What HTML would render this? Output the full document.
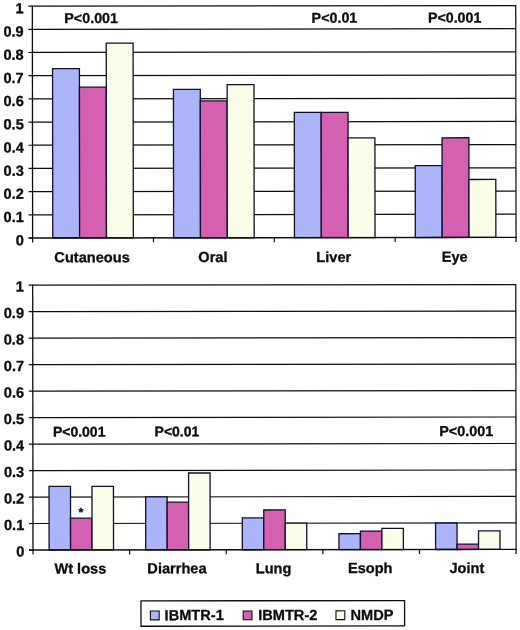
<!DOCTYPE html>
<html><head><meta charset="utf-8"><title>Chart</title>
<style>
html,body{margin:0;padding:0;background:#fff;}
svg{display:block;}
.t{font-family:"Liberation Sans",Arial,sans-serif;font-weight:bold;font-size:14.6px;fill:#0c0c0c;stroke:#0c0c0c;stroke-width:0.3px;}
</style></head><body>
<svg width="520" height="630" viewBox="0 0 520 630">
<rect width="520" height="630" fill="#fff"/>
<g transform="rotate(-0.07 33 300)">
<line x1="32.7" y1="6.10" x2="516.1" y2="6.10" stroke="#0c0c0c" stroke-width="1.25"/>
<line x1="28.700000000000003" y1="6.10" x2="32.7" y2="6.10" stroke="#0c0c0c" stroke-width="1.2"/>
<text x="24.000000000000004" y="13.30" text-anchor="end" class="t">1</text>
<line x1="32.7" y1="29.29" x2="516.1" y2="29.29" stroke="#0c0c0c" stroke-width="1.25"/>
<line x1="28.700000000000003" y1="29.29" x2="32.7" y2="29.29" stroke="#0c0c0c" stroke-width="1.2"/>
<text x="24.000000000000004" y="36.49" text-anchor="end" class="t">0.9</text>
<line x1="32.7" y1="52.48" x2="516.1" y2="52.48" stroke="#0c0c0c" stroke-width="1.25"/>
<line x1="28.700000000000003" y1="52.48" x2="32.7" y2="52.48" stroke="#0c0c0c" stroke-width="1.2"/>
<text x="24.000000000000004" y="59.68" text-anchor="end" class="t">0.8</text>
<line x1="32.7" y1="75.67" x2="516.1" y2="75.67" stroke="#0c0c0c" stroke-width="1.25"/>
<line x1="28.700000000000003" y1="75.67" x2="32.7" y2="75.67" stroke="#0c0c0c" stroke-width="1.2"/>
<text x="24.000000000000004" y="82.87" text-anchor="end" class="t">0.7</text>
<line x1="32.7" y1="98.86" x2="516.1" y2="98.86" stroke="#0c0c0c" stroke-width="1.25"/>
<line x1="28.700000000000003" y1="98.86" x2="32.7" y2="98.86" stroke="#0c0c0c" stroke-width="1.2"/>
<text x="24.000000000000004" y="106.06" text-anchor="end" class="t">0.6</text>
<line x1="32.7" y1="122.05" x2="516.1" y2="122.05" stroke="#0c0c0c" stroke-width="1.25"/>
<line x1="28.700000000000003" y1="122.05" x2="32.7" y2="122.05" stroke="#0c0c0c" stroke-width="1.2"/>
<text x="24.000000000000004" y="129.25" text-anchor="end" class="t">0.5</text>
<line x1="32.7" y1="145.24" x2="516.1" y2="145.24" stroke="#0c0c0c" stroke-width="1.25"/>
<line x1="28.700000000000003" y1="145.24" x2="32.7" y2="145.24" stroke="#0c0c0c" stroke-width="1.2"/>
<text x="24.000000000000004" y="152.44" text-anchor="end" class="t">0.4</text>
<line x1="32.7" y1="168.43" x2="516.1" y2="168.43" stroke="#0c0c0c" stroke-width="1.25"/>
<line x1="28.700000000000003" y1="168.43" x2="32.7" y2="168.43" stroke="#0c0c0c" stroke-width="1.2"/>
<text x="24.000000000000004" y="175.63" text-anchor="end" class="t">0.3</text>
<line x1="32.7" y1="191.62" x2="516.1" y2="191.62" stroke="#0c0c0c" stroke-width="1.25"/>
<line x1="28.700000000000003" y1="191.62" x2="32.7" y2="191.62" stroke="#0c0c0c" stroke-width="1.2"/>
<text x="24.000000000000004" y="198.82" text-anchor="end" class="t">0.2</text>
<line x1="32.7" y1="214.81" x2="516.1" y2="214.81" stroke="#0c0c0c" stroke-width="1.25"/>
<line x1="28.700000000000003" y1="214.81" x2="32.7" y2="214.81" stroke="#0c0c0c" stroke-width="1.2"/>
<text x="24.000000000000004" y="222.01" text-anchor="end" class="t">0.1</text>
<line x1="28.700000000000003" y1="238.00" x2="32.7" y2="238.00" stroke="#0c0c0c" stroke-width="1.2"/>
<text x="24.000000000000004" y="245.20" text-anchor="end" class="t">0</text>
<rect x="52.84" y="68.71" width="26.86" height="169.29" fill="#acb5fa" stroke="#101028" stroke-width="1.3"/>
<rect x="79.70" y="87.26" width="26.86" height="150.74" fill="#d55fb0" stroke="#101028" stroke-width="1.3"/>
<rect x="106.55" y="43.20" width="26.86" height="194.80" fill="#fafde8" stroke="#101028" stroke-width="1.3"/>
<text x="92.12" y="262.30" text-anchor="middle" class="t">Cutaneous</text>
<rect x="173.69" y="89.58" width="26.86" height="148.42" fill="#acb5fa" stroke="#101028" stroke-width="1.3"/>
<rect x="200.55" y="101.18" width="26.86" height="136.82" fill="#d55fb0" stroke="#101028" stroke-width="1.3"/>
<rect x="227.40" y="84.95" width="26.86" height="153.05" fill="#fafde8" stroke="#101028" stroke-width="1.3"/>
<text x="212.98" y="262.30" text-anchor="middle" class="t">Oral</text>
<rect x="294.54" y="112.77" width="26.86" height="125.23" fill="#acb5fa" stroke="#101028" stroke-width="1.3"/>
<rect x="321.40" y="112.77" width="26.86" height="125.23" fill="#d55fb0" stroke="#101028" stroke-width="1.3"/>
<rect x="348.25" y="138.28" width="26.86" height="99.72" fill="#fafde8" stroke="#101028" stroke-width="1.3"/>
<text x="333.83" y="262.30" text-anchor="middle" class="t">Liver</text>
<rect x="415.39" y="166.11" width="26.86" height="71.89" fill="#acb5fa" stroke="#101028" stroke-width="1.3"/>
<rect x="442.25" y="138.28" width="26.86" height="99.72" fill="#d55fb0" stroke="#101028" stroke-width="1.3"/>
<rect x="469.10" y="180.03" width="26.86" height="57.97" fill="#fafde8" stroke="#101028" stroke-width="1.3"/>
<text x="454.68" y="262.30" text-anchor="middle" class="t">Eye</text>
<line x1="32.7" y1="5.5" x2="32.7" y2="238.6" stroke="#0c0c0c" stroke-width="1.3"/>
<line x1="516.1" y1="5.5" x2="516.1" y2="238.6" stroke="#0c0c0c" stroke-width="1.2"/>
<line x1="28.700000000000003" y1="238.0" x2="516.7" y2="238.0" stroke="#0c0c0c" stroke-width="1.3"/>
<line x1="32.70" y1="238.0" x2="32.70" y2="242.5" stroke="#0c0c0c" stroke-width="1.2"/>
<line x1="153.55" y1="238.0" x2="153.55" y2="242.5" stroke="#0c0c0c" stroke-width="1.2"/>
<line x1="274.40" y1="238.0" x2="274.40" y2="242.5" stroke="#0c0c0c" stroke-width="1.2"/>
<line x1="395.25" y1="238.0" x2="395.25" y2="242.5" stroke="#0c0c0c" stroke-width="1.2"/>
<line x1="516.10" y1="238.0" x2="516.10" y2="242.5" stroke="#0c0c0c" stroke-width="1.2"/>
<text x="91.5" y="23" text-anchor="middle" class="t" style="font-size:14.3px">P&lt;0.001</text>
<text x="334.8" y="23" text-anchor="middle" class="t" style="font-size:14.3px">P&lt;0.01</text>
<text x="455" y="23" text-anchor="middle" class="t" style="font-size:14.2px">P&lt;0.001</text>
<line x1="32.7" y1="285.20" x2="515.8" y2="285.20" stroke="#0c0c0c" stroke-width="1.2"/>
<line x1="28.700000000000003" y1="285.20" x2="32.7" y2="285.20" stroke="#0c0c0c" stroke-width="1.2"/>
<text x="24.000000000000004" y="291.60" text-anchor="end" class="t">1</text>
<line x1="32.7" y1="311.68" x2="515.8" y2="311.68" stroke="#0c0c0c" stroke-width="1.2"/>
<line x1="28.700000000000003" y1="311.68" x2="32.7" y2="311.68" stroke="#0c0c0c" stroke-width="1.2"/>
<text x="24.000000000000004" y="318.08" text-anchor="end" class="t">0.9</text>
<line x1="32.7" y1="338.16" x2="515.8" y2="338.16" stroke="#0c0c0c" stroke-width="1.2"/>
<line x1="28.700000000000003" y1="338.16" x2="32.7" y2="338.16" stroke="#0c0c0c" stroke-width="1.2"/>
<text x="24.000000000000004" y="344.56" text-anchor="end" class="t">0.8</text>
<line x1="32.7" y1="364.64" x2="515.8" y2="364.64" stroke="#0c0c0c" stroke-width="1.2"/>
<line x1="28.700000000000003" y1="364.64" x2="32.7" y2="364.64" stroke="#0c0c0c" stroke-width="1.2"/>
<text x="24.000000000000004" y="371.04" text-anchor="end" class="t">0.7</text>
<line x1="32.7" y1="391.12" x2="515.8" y2="391.12" stroke="#0c0c0c" stroke-width="1.2"/>
<line x1="28.700000000000003" y1="391.12" x2="32.7" y2="391.12" stroke="#0c0c0c" stroke-width="1.2"/>
<text x="24.000000000000004" y="397.52" text-anchor="end" class="t">0.6</text>
<line x1="32.7" y1="417.60" x2="515.8" y2="417.60" stroke="#0c0c0c" stroke-width="1.2"/>
<line x1="28.700000000000003" y1="417.60" x2="32.7" y2="417.60" stroke="#0c0c0c" stroke-width="1.2"/>
<text x="24.000000000000004" y="424.00" text-anchor="end" class="t">0.5</text>
<line x1="32.7" y1="444.08" x2="515.8" y2="444.08" stroke="#0c0c0c" stroke-width="1.2"/>
<line x1="28.700000000000003" y1="444.08" x2="32.7" y2="444.08" stroke="#0c0c0c" stroke-width="1.2"/>
<text x="24.000000000000004" y="450.48" text-anchor="end" class="t">0.4</text>
<line x1="32.7" y1="470.56" x2="515.8" y2="470.56" stroke="#0c0c0c" stroke-width="1.2"/>
<line x1="28.700000000000003" y1="470.56" x2="32.7" y2="470.56" stroke="#0c0c0c" stroke-width="1.2"/>
<text x="24.000000000000004" y="476.96" text-anchor="end" class="t">0.3</text>
<line x1="32.7" y1="497.04" x2="515.8" y2="497.04" stroke="#0c0c0c" stroke-width="1.2"/>
<line x1="28.700000000000003" y1="497.04" x2="32.7" y2="497.04" stroke="#0c0c0c" stroke-width="1.2"/>
<text x="24.000000000000004" y="503.44" text-anchor="end" class="t">0.2</text>
<line x1="32.7" y1="523.52" x2="515.8" y2="523.52" stroke="#0c0c0c" stroke-width="1.2"/>
<line x1="28.700000000000003" y1="523.52" x2="32.7" y2="523.52" stroke="#0c0c0c" stroke-width="1.2"/>
<text x="24.000000000000004" y="529.92" text-anchor="end" class="t">0.1</text>
<line x1="28.700000000000003" y1="550.00" x2="32.7" y2="550.00" stroke="#0c0c0c" stroke-width="1.2"/>
<text x="24.000000000000004" y="556.40" text-anchor="end" class="t">0</text>
<rect x="48.80" y="486.45" width="21.47" height="63.55" fill="#acb5fa" stroke="#101028" stroke-width="1.3"/>
<rect x="70.27" y="518.22" width="21.47" height="31.78" fill="#d55fb0" stroke="#101028" stroke-width="1.3"/>
<rect x="91.75" y="486.45" width="21.47" height="63.55" fill="#fafde8" stroke="#101028" stroke-width="1.3"/>
<text x="80.01" y="573.50" text-anchor="middle" class="t">Wt loss</text>
<rect x="145.42" y="497.04" width="21.47" height="52.96" fill="#acb5fa" stroke="#101028" stroke-width="1.3"/>
<rect x="166.89" y="502.34" width="21.47" height="47.66" fill="#d55fb0" stroke="#101028" stroke-width="1.3"/>
<rect x="188.37" y="473.21" width="21.47" height="76.79" fill="#fafde8" stroke="#101028" stroke-width="1.3"/>
<text x="176.63" y="573.50" text-anchor="middle" class="t">Diarrhea</text>
<rect x="242.04" y="518.22" width="21.47" height="31.78" fill="#acb5fa" stroke="#101028" stroke-width="1.3"/>
<rect x="263.51" y="510.28" width="21.47" height="39.72" fill="#d55fb0" stroke="#101028" stroke-width="1.3"/>
<rect x="284.99" y="523.52" width="21.47" height="26.48" fill="#fafde8" stroke="#101028" stroke-width="1.3"/>
<text x="273.25" y="573.50" text-anchor="middle" class="t">Lung</text>
<rect x="338.66" y="534.11" width="21.47" height="15.89" fill="#acb5fa" stroke="#101028" stroke-width="1.3"/>
<rect x="360.13" y="531.46" width="21.47" height="18.54" fill="#d55fb0" stroke="#101028" stroke-width="1.3"/>
<rect x="381.61" y="528.82" width="21.47" height="21.18" fill="#fafde8" stroke="#101028" stroke-width="1.3"/>
<text x="369.87" y="573.50" text-anchor="middle" class="t">Esoph</text>
<rect x="435.28" y="523.52" width="21.47" height="26.48" fill="#acb5fa" stroke="#101028" stroke-width="1.3"/>
<rect x="456.75" y="544.70" width="21.47" height="5.30" fill="#d55fb0" stroke="#101028" stroke-width="1.3"/>
<rect x="478.23" y="531.46" width="21.47" height="18.54" fill="#fafde8" stroke="#101028" stroke-width="1.3"/>
<text x="466.49" y="573.50" text-anchor="middle" class="t">Joint</text>
<line x1="32.7" y1="284.59999999999997" x2="32.7" y2="550.6" stroke="#0c0c0c" stroke-width="1.3"/>
<line x1="515.8" y1="284.59999999999997" x2="515.8" y2="550.6" stroke="#0c0c0c" stroke-width="1.2"/>
<line x1="28.700000000000003" y1="550.0" x2="516.4" y2="550.0" stroke="#0c0c0c" stroke-width="1.3"/>
<line x1="32.70" y1="550.0" x2="32.70" y2="554.5" stroke="#0c0c0c" stroke-width="1.2"/>
<line x1="129.32" y1="550.0" x2="129.32" y2="554.5" stroke="#0c0c0c" stroke-width="1.2"/>
<line x1="225.94" y1="550.0" x2="225.94" y2="554.5" stroke="#0c0c0c" stroke-width="1.2"/>
<line x1="322.56" y1="550.0" x2="322.56" y2="554.5" stroke="#0c0c0c" stroke-width="1.2"/>
<line x1="419.18" y1="550.0" x2="419.18" y2="554.5" stroke="#0c0c0c" stroke-width="1.2"/>
<line x1="515.80" y1="550.0" x2="515.80" y2="554.5" stroke="#0c0c0c" stroke-width="1.2"/>
<text x="79" y="436.5" text-anchor="middle" class="t" style="font-size:14px">P&lt;0.001</text>
<text x="176.8" y="436.5" text-anchor="middle" class="t" style="font-size:14px">P&lt;0.01</text>
<text x="466" y="436.5" text-anchor="middle" class="t" style="font-size:14.4px">P&lt;0.001</text>
<text x="80.6" y="516.5" text-anchor="middle" class="t" style="font-size:12.5px">*</text>
<rect x="140.6" y="601.0" width="263.6" height="25.4" fill="#fff" stroke="#0c0c0c" stroke-width="1.3"/>
<rect x="150" y="611.2" width="8.8" height="8.8" fill="#acb5fa" stroke="#0c0c0c" stroke-width="1.1"/>
<text x="164.2" y="620.3" class="t">IBMTR-1</text>
<rect x="242.8" y="611.2" width="8.8" height="8.8" fill="#d55fb0" stroke="#0c0c0c" stroke-width="1.1"/>
<text x="257.8" y="620.3" class="t">IBMTR-2</text>
<rect x="335.6" y="611.2" width="8.8" height="8.8" fill="#fafde8" stroke="#0c0c0c" stroke-width="1.1"/>
<text x="350.1" y="620.3" class="t">NMDP</text>
</g>
</svg>
</body></html>
